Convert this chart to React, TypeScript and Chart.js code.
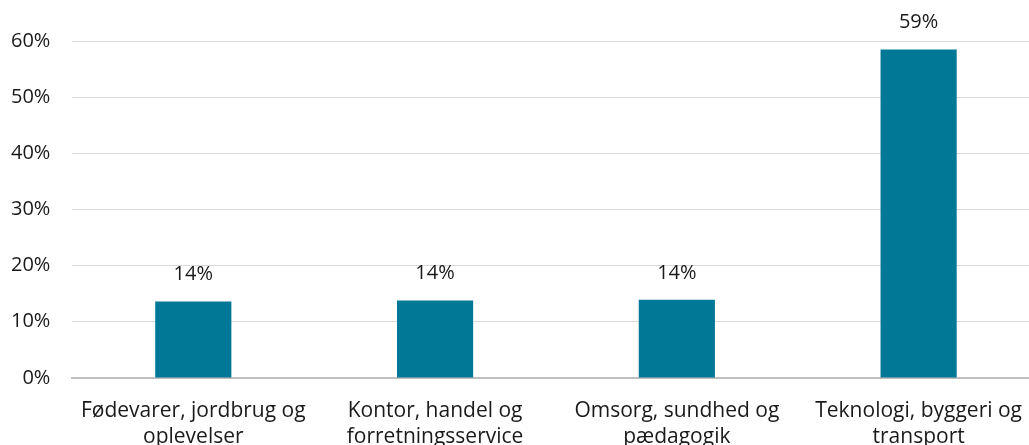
import React, { useEffect, useRef } from "react";
import { Chart, registerables } from "chart.js";

Chart.register(...registerables);

const categories: string[][] = [
  ["Fødevarer, jordbrug og", "oplevelser"],
  ["Kontor, handel og", "forretningsservice"],
  ["Omsorg, sundhed og", "pædagogik"],
  ["Teknologi, byggeri og", "transport"],
];
const values: number[] = [13.6, 13.8, 13.9, 58.5];
const valueLabels: string[] = ["14%", "14%", "14%", "59%"];
const yTicks: number[] = [0, 10, 20, 30, 40, 50, 60];

const FONT = "'Open Sans'";
const BAR_COLOR = "#007896";
const CANVAS_W = 1053;
const CANVAS_H = 470;

const labelPlugin = {
  id: "valueLabels",
  afterDatasetsDraw(chart: any) {
    const ctx = chart.ctx;
    const meta = chart.getDatasetMeta(0);
    ctx.save();
    ctx.font = `20px ${FONT}`;
    ctx.fillStyle = "#1a1a1a";
    ctx.textAlign = "center";
    ctx.textBaseline = "middle";
    meta.data.forEach((bar: any, i: number) => {
      ctx.fillText(valueLabels[i], bar.x, bar.y - 27);
    });
    ctx.restore();
  },
};

export default function App() {
  const ref = useRef<HTMLCanvasElement>(null);
  useEffect(() => {
    document.body.style.margin = "0";
    document.body.style.overflow = "hidden";
    const chart = new Chart(ref.current!, {
      type: "bar",
      data: {
        labels: categories,
        datasets: [
          {
            data: values,
            backgroundColor: BAR_COLOR,
            barPercentage: 0.315,
            categoryPercentage: 1,
          },
        ],
      },
      options: {
        animation: false,
        responsive: false,
        maintainAspectRatio: false,
        layout: { padding: { left: 0, top: 41, right: 0, bottom: 0 } },
        plugins: { legend: { display: false }, tooltip: { enabled: false } },
        scales: {
          x: {
            grid: { display: false, drawTicks: false },
            border: { display: true, color: "#bfbfbf", width: 2 },
            ticks: {
              color: "#1a1a1a",
              font: { family: FONT, size: 21, lineHeight: 1.24 },
              padding: 20,
              maxRotation: 0,
              autoSkip: false,
            },
          },
          y: {
            min: 0,
            max: 60,
            afterBuildTicks: (axis: any) => {
              axis.ticks = yTicks.map((v) => ({ value: v }));
            },
            grid: { color: "#d9d9d9", drawTicks: false, lineWidth: 1 },
            border: { display: false },
            ticks: {
              color: "#1a1a1a",
              font: { family: FONT, size: 20 },
              padding: 22,
              callback: (v: any) => `${v}%`,
            },
          },
        },
      },
      plugins: [labelPlugin],
    });
    return () => chart.destroy();
  }, []);
  return (
    <div style={{ position: "absolute", left: -11, top: 0, width: CANVAS_W, height: CANVAS_H }}>
      <canvas ref={ref} width={CANVAS_W} height={CANVAS_H} style={{ display: "block" }} />
    </div>
  );
}
